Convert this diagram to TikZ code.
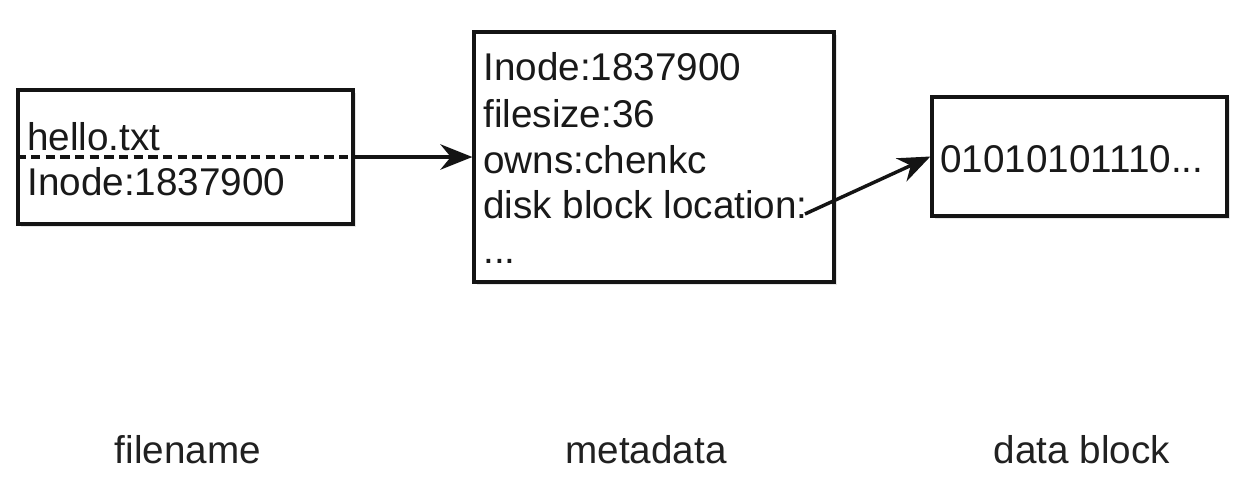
\documentclass[tikz,border=0pt]{standalone}
\usepackage{fontspec}
\setmainfont{Liberation Sans}
\usetikzlibrary{arrows.meta,shadows}
\begin{document}
\begin{tikzpicture}[x=0.75pt,y=-0.75pt,
  box/.style={draw=black!92,line width=2.4pt,fill=white,inner sep=0pt,
    drop shadow={opacity=0.2,shadow xshift=2.5pt,shadow yshift=-2.5pt}},
  txt/.style={anchor=base west,inner sep=0pt,font=\fontsize{29pt}{34pt}\selectfont,text=black!90},
  lbl/.style={anchor=base,inner sep=0pt,font=\fontsize{29pt}{34pt}\selectfont,text=black!87},
  arr/.style={draw=black!92,line width=2.6pt,-{Stealth[length=24pt,width=19pt]}}]
\useasboundingbox[fill=white] (0,0) rectangle (1240,482);
% boxes
\node[box,minimum width=335*0.75pt,minimum height=134*0.75pt] (fn) at (185.5,157) {};
\node[box,minimum width=360*0.75pt,minimum height=250*0.75pt] (md) at (654,157) {};
\node[box,minimum width=295*0.75pt,minimum height=119*0.75pt] (db) at (1079.5,156.5) {};
% filename box content
\draw[draw=black!92,line width=2.4pt,dash pattern=on 7pt off 4pt] (fn.west) -- (fn.east);
\node[txt] (t1) at (27,150) {hello.txt};
\node[txt] (t2) at (27,195) {Inode:1837900};
% metadata content
\node[txt] (m1) at (483,80) {Inode:1837900};
\node[txt] (m2) at (483,127) {filesize:36};
\node[txt] (m3) at (483,173) {owns:chenkc};
\node[txt] (m4) at (483,218) {disk block location:};
\node[txt] (m5) at (483,263) {...};
% data block content
\node[txt] (d1) at (940,172) {01010101110...};
% connectors
\coordinate (loc) at (805,214);
\draw[arr] (fn.east) -- (md.west);
\draw[arr] (loc) -- (db.west);
% labels
\node[lbl] (l1) at (188,463) {filename};
\node[lbl] (l2) at (646,463) {metadata};
\node[lbl] (l3) at (1082,463) {data block};
\end{tikzpicture}
\end{document}
